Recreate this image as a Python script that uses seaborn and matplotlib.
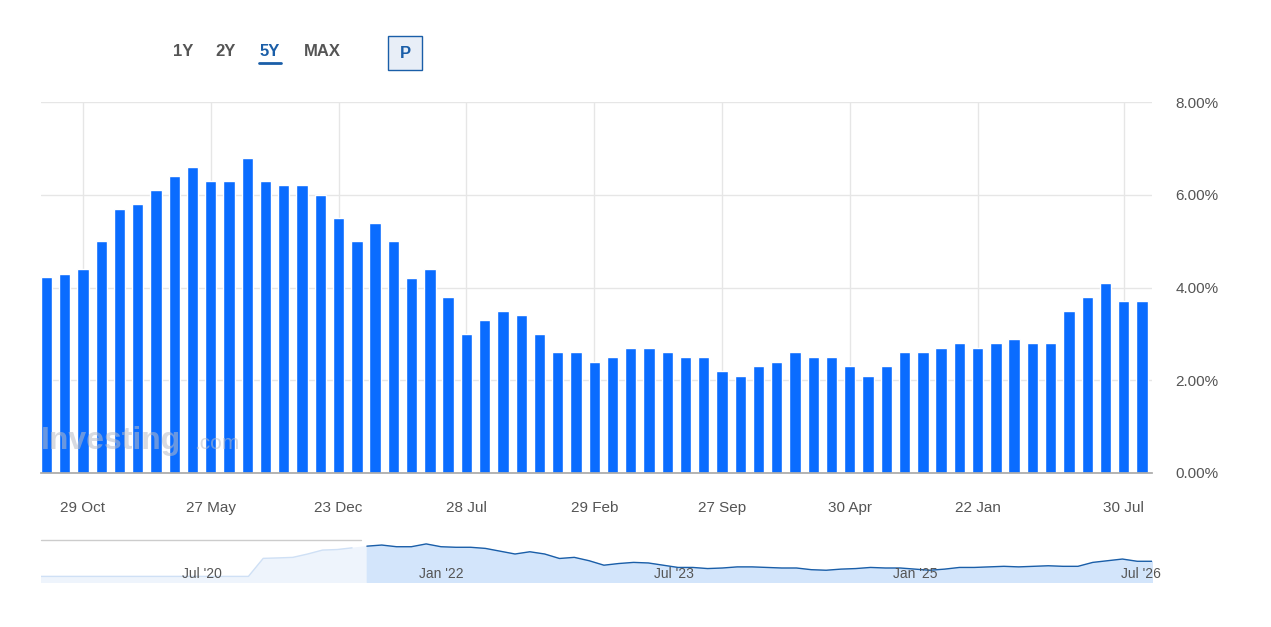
import matplotlib
matplotlib.use("Agg")
import matplotlib.pyplot as plt
import seaborn as sns
import pandas as pd
import numpy as np

values = [4.22,4.3,4.4,5.0,5.7,5.8,6.1,6.4,6.6,6.3,6.3,6.8,6.3,6.2,6.2,6.0,5.5,5.0,5.4,5.0,
          4.2,4.4,3.8,3.0,3.3,3.5,3.4,3.0,2.6,2.6,2.4,2.5,2.7,2.7,2.6,2.5,2.5,2.2,2.1,2.3,
          2.4,2.6,2.5,2.5,2.3,2.1,2.3,2.6,2.6,2.7,2.8,2.7,2.8,2.9,2.8,2.8,3.5,3.8,4.1,3.7,3.7]
tick_idx = [2,9,16,23,30,37,44,51,59]
tick_labels = ["29 Oct","27 May","23 Dec","28 Jul","29 Feb","27 Sep","30 Apr","22 Jan","30 Jul"]
y_ticks = [0,2,4,6,8]
nav_labels = ["Jul '20","Jan '22","Jul '23","Jan '25","Jul '26"]
nav_pos = [0.145,0.36,0.57,0.787,0.99]

sns.set_theme(style="white")
plt.rcParams['font.family'] = ['Liberation Sans','DejaVu Sans']
fig = plt.figure(figsize=(12.71,6.27), dpi=100)
W,H = 1271,627
ax = fig.add_axes([41/W, 1-473/H, (1152-41)/W, (473-102)/H])
df = pd.DataFrame({"i":np.arange(len(values)),"v":values})
ax.set_axisbelow(True)
for t in tick_idx:
    ax.axvline(t, color="#e6e6e6", lw=1, zorder=0)
for y in y_ticks:
    ax.axhline(y, color="#e6e6e6", lw=1, zorder=0)
sns.barplot(data=df, x="i", y="v", color="#0a6cff", saturation=1, width=0.62, ax=ax, zorder=2)
ax.set_xlim(-0.3, len(values)-0.45)
ax.set_ylim(0,8)
ax.yaxis.tick_right()
ax.set_yticks(y_ticks)
ax.set_yticklabels([f"{y:.2f}%" for y in y_ticks], color="#555", fontsize=11)
ax.set_xticks(tick_idx)
ax.set_xticklabels(tick_labels, color="#555", fontsize=11)
ax.tick_params(axis="x", length=0, pad=20)
ax.tick_params(axis="y", length=0, pad=17)
ax.set_xlabel(""); ax.set_ylabel("")
for s in ["top","left","right"]:
    ax.spines[s].set_visible(False)
ax.spines["bottom"].set_color("#aaa")
ax.text(0.0, 0.065, "Investing", transform=ax.transAxes, fontsize=23, color="#b8bcc8", alpha=0.55, fontweight="bold")
ax.text(0.138, 0.065, ".com", transform=ax.transAxes, fontsize=15, color="#b8bcc8", alpha=0.55)

# toolbar
for x,lab,c in [(183,"1Y","#555"),(226,"2Y","#555"),(270,"5Y","#1a5ea8"),(322,"MAX","#555")]:
    fig.text(x/W, 1-52/H, lab, ha="center", va="center", fontsize=12, fontweight="bold", color=c)
fig.add_artist(plt.Line2D([259/W,281/W],[1-63/H,1-63/H], color="#1a5ea8", lw=2))
fig.add_artist(plt.Rectangle((388/W,1-70/H),34/W,34/H, fc="#e8eef7", ec="#1a5ea8", lw=1))
fig.text(405/W, 1-53/H, "P", ha="center", va="center", fontsize=12, fontweight="bold", color="#1a5ea8")

# navigator
nav = fig.add_axes([41/W, 1-582/H, (1152-41)/W, (582-540)/H])
nav_vals = [1.0]*15 + values
xs = np.linspace(0,1,len(nav_vals))
nav.fill_between(xs, nav_vals, color="#eef4fc")
sel = xs >= 0.288
nav.fill_between(xs[sel], np.array(nav_vals)[sel], color="#d3e5fb")
nav.plot(xs[~sel], np.array(nav_vals)[~sel], color="#cfe0f5", lw=1)
nav.plot(xs[sel], np.array(nav_vals)[sel], color="#1a5ea8", lw=1)
nav.set_xlim(0,1); nav.set_ylim(0,7.5)
nav.set_xticks([]); nav.set_yticks([])
for s in nav.spines.values(): s.set_visible(False)
for p,l in zip(nav_pos,nav_labels):
    nav.text(p, 0.1, l, transform=nav.transAxes, fontsize=10, color="#555", ha="center")
fig.add_artist(plt.Line2D([41/W,361/W],[1-540/H,1-540/H], color="#ccc", lw=1))
fig.savefig("out.png", dpi=100)
